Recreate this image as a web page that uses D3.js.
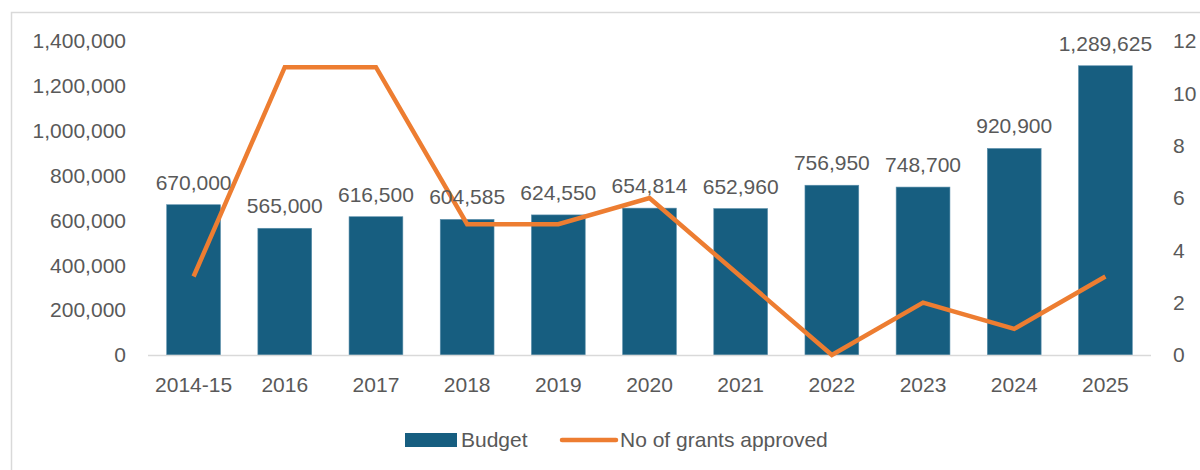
<!DOCTYPE html>
<html><head><meta charset="utf-8">
<script src="https://cdn.jsdelivr.net/npm/d3@7"></script>
<style>body{margin:0;background:#fff;} svg{display:block;} text{font-family:"Liberation Sans",Arial,sans-serif;fill:#595959;}</style>
</head><body>
<svg id="c" width="1200" height="470"></svg>
<script>
const categories = ["2014-15","2016","2017","2018","2019","2020","2021","2022","2023","2024","2025"];
const budget = [670000,565000,616500,604585,624550,654814,652960,756950,748700,920900,1289625];
const grants = [3,11,11,5,5,6,3,0,2,1,3];
const leftTicks = [0,200000,400000,600000,800000,1000000,1200000,1400000];
const rightTicks = [0,2,4,6,8,10,12];
const seriesNames = ["Budget","No of grants approved"];

const svg = d3.select("#c");
const fs = 21;
// frame
svg.append("path").attr("d","M11.5,470 V12.5 H1200").attr("fill","none").attr("stroke","#d9d9d9").attr("stroke-width",1.5);

const x = d3.scaleBand().domain(categories).range([148,1151]).paddingInner(0.41).paddingOuter(0.205);
const y = d3.scaleLinear().domain([0,1400000]).range([355,41]);
const y2 = d3.scaleLinear().domain([0,12]).range([355,41]);
const fmt = d3.format(",");

// bars
svg.append("g").selectAll("rect").data(budget).join("rect")
  .attr("x",(d,i)=>x(categories[i])).attr("width",x.bandwidth())
  .attr("y",d=>y(d)).attr("height",d=>y(0)-y(d))
  .attr("fill","#175E80").attr("stroke","#5b8fab").attr("stroke-width",0.6);

// axis line
svg.append("line").attr("x1",148).attr("x2",1151).attr("y1",355.5).attr("y2",355.5).attr("stroke","#d9d9d9").attr("stroke-width",1.5);

// left axis
const la = svg.append("g").attr("transform","translate(126,0)").call(d3.axisLeft(y).tickValues(leftTicks).tickFormat(fmt).tickSize(0).tickPadding(0));
la.select(".domain").remove();
la.selectAll("text").attr("font-size",fs).attr("fill","#595959").attr("font-family","Liberation Sans, Arial, sans-serif");

// right axis
const ra = svg.append("g").attr("transform","translate(1173,0)").call(d3.axisRight(y2).tickValues(rightTicks).tickSize(0).tickPadding(0));
ra.select(".domain").remove();
ra.selectAll("text").attr("font-size",fs).attr("fill","#595959").attr("font-family","Liberation Sans, Arial, sans-serif");

// x axis
const xa = svg.append("g").attr("transform","translate(0,355)").call(d3.axisBottom(x).tickSize(0).tickPadding(22));
xa.select(".domain").remove();
xa.selectAll("text").attr("font-size",fs).attr("fill","#595959").attr("font-family","Liberation Sans, Arial, sans-serif");

// line
const line = d3.line().x((d,i)=>x(categories[i])+x.bandwidth()/2).y(d=>y2(d));
svg.append("path").datum(grants).attr("d",line).attr("fill","none").attr("stroke","#ED7D31").attr("stroke-width",4.5).attr("stroke-linejoin","miter");

// data labels
svg.append("g").selectAll("text").data(budget).join("text")
  .attr("x",(d,i)=>x(categories[i])+x.bandwidth()/2).attr("y",d=>y(d)-15)
  .attr("text-anchor","middle").attr("font-size",fs).text(d=>fmt(d));

// legend
const lg = svg.append("g");
lg.append("rect").attr("x",405).attr("y",433).attr("width",52).attr("height",14).attr("fill","#175E80");
lg.append("text").attr("x",461).attr("y",447).attr("font-size",fs).text(seriesNames[0]);
lg.append("line").attr("x1",562).attr("x2",616).attr("y1",440).attr("y2",440).attr("stroke","#ED7D31").attr("stroke-width",4.5).attr("stroke-linecap","round");
lg.append("text").attr("x",620).attr("y",447).attr("font-size",fs).text(seriesNames[1]);
</script>
</body></html>
